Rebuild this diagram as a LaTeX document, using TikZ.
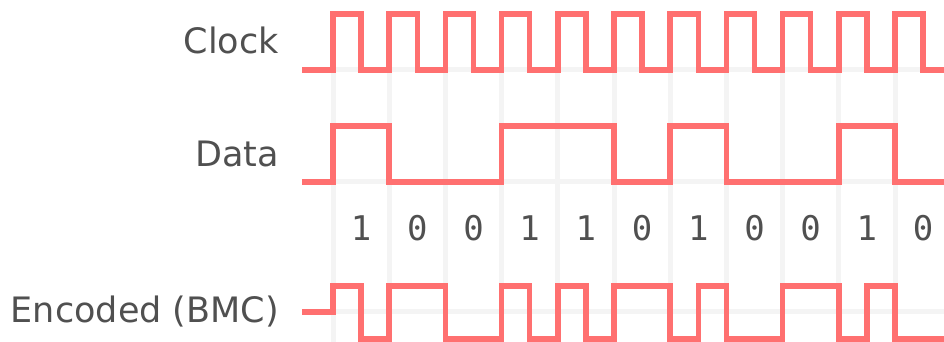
\documentclass[tikz,border=0pt]{standalone}
\usepackage{fontspec}
\setmainfont{DejaVu Sans}
\newfontfamily\bitfont{DejaVu Sans Mono}

\definecolor{signalred}{RGB}{255,112,112}
\definecolor{gridgray}{RGB}{244,244,244}
\definecolor{labelgray}{RGB}{80,80,80}

\begin{document}
\begin{tikzpicture}[x=1pt,y=1pt,line cap=butt,line join=miter,
    signal/.style={signalred,line width=5.5pt},
    guide/.style={gridgray,line width=5pt},
    rowlabel/.style={labelgray,anchor=base east,inner sep=0pt,
        font=\fontsize{35}{42}\selectfont},
    bitlabel/.style={labelgray,anchor=base,inner sep=0pt,
        font=\bitfont\fontsize{34}{40}\selectfont}]
        \useasboundingbox (0,0) rectangle (944,342);

        % Retícula
        \foreach \k in {0,...,10} {
            \draw[guide] ({333+56.2*\k},0) -- ({333+56.2*\k},272);
        }
        \foreach \y in {272,160,30} {
            \draw[guide] (333,\y) -- (944,\y);
        }

        % Reloj
        \draw[signal] (302,272)
            \foreach \k in {0,...,10} {
                -| ({333+56.2*\k},328) -| ({361.1+56.2*\k},272)
            } -- (944,272);

        % Datos
        \draw[signal] (302,160) -| (333,216) -| (389.2,160)
            -| (501.6,216) -| (614,160) -| (670.2,216)
            -| (726.4,160) -| (838.8,216) -| (895,160) -- (944,160);

        % Señal codificada
        \draw[signal] (302,30) -| (333,56) -| (361.1,3) -| (389.2,56)
            -| (445.4,3) -| (501.6,56) -| (529.7,3) -| (557.8,56)
            -| (585.9,3) -| (614,56) -| (670.2,3) -| (698.3,56)
            -| (726.4,3) -| (782.6,56) -| (838.8,3) -| (866.9,56)
            -| (895,3) -- (944,3);

        % Bits
        \foreach \b [count=\i from 0] in {1,0,0,1,1,0,1,0,0,1,0} {
            \node[bitlabel] (bit\i) at ({361.1+56.2*\i},101) {\b};
        }

        % Nombres de las señales
        \node[rowlabel] (clock) at (279,288) {Clock};
        \node[rowlabel] (data) at (279,175) {Data};
        \node[rowlabel] (encoded) at (279,19) {Encoded (BMC)};
    \end{tikzpicture}
\end{document}
